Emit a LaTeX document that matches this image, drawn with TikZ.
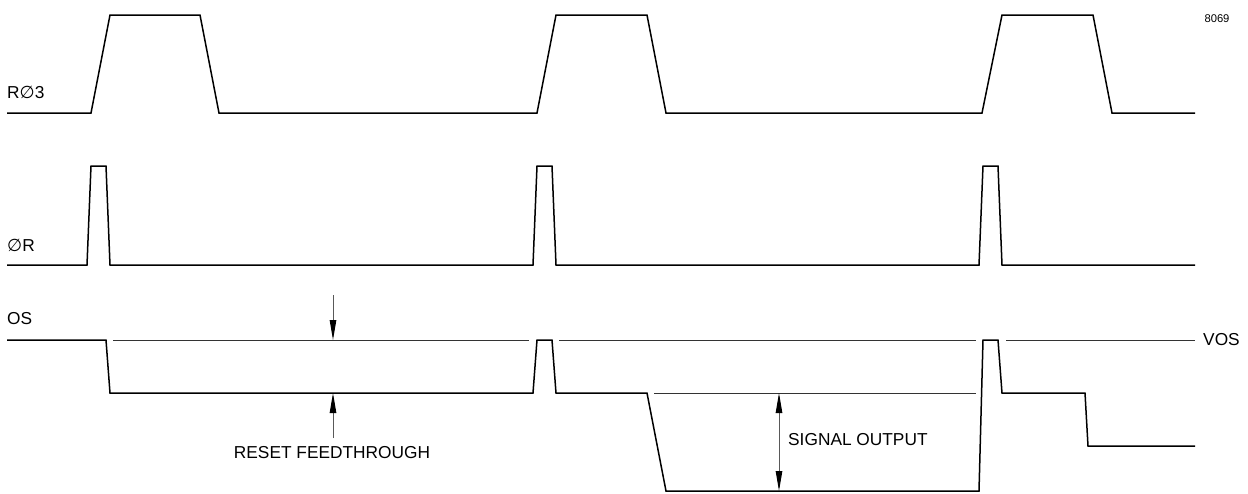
\documentclass[tikz,border=0pt]{standalone}
\usepackage{fontspec}
\setmainfont{Liberation Sans}
\newfontfamily\symf{DejaVu Sans}
\usetikzlibrary{arrows.meta}
\tikzset{
  wave/.style={line width=1.5pt, black, line join=miter},
  refline/.style={line width=1pt, black!80},
  dimarrow/.style={line width=1pt, black!65, -{Triangle[length=20pt,width=6.5pt,black]}},
  dimboth/.style={line width=1pt, black!65, {Triangle[length=20pt,width=6.5pt,black]}-{Triangle[length=20pt,width=6.5pt,black]}},
  lbl/.style={font=\fontsize{17.3}{20}\selectfont, inner sep=0pt},
  tag/.style={font=\fontsize{11.2}{13}\selectfont, inner sep=0pt}
}
\newcommand{\dia}{{\symf\char"2205}}
\begin{document}
\begin{tikzpicture}[x=1pt,y=-1pt]
\useasboundingbox (0,0) rectangle (1248,493);
% R phi 3
\draw[wave] (7,113) -- (91,113) -- (110,15) -- (200,15) -- (219,113) -- (537,113) -- (556,15) -- (647,15) -- (666,113) -- (982,113) -- (1002,15) -- (1093,15) -- (1112,113) -- (1195,113);
% phi R
\draw[wave] (7,265) -- (87,265) -- (91,166) -- (106,166) -- (110,265) -- (533,265) -- (537,166) -- (552,166) -- (556,265) -- (979,265) -- (983,166) -- (998,166) -- (1002,265) -- (1195,265);
% OS
\draw[wave] (7,340) -- (106,340) -- (110,393) -- (533,393) -- (537,340) -- (552,340) -- (556,393) -- (647,393) -- (666,491) -- (979,491) -- (983,340) -- (998,340) -- (1002,393) -- (1085,393) -- (1088,446) -- (1195,446);
% reference lines
\draw[refline] (113,340) -- (529,340);
\draw[refline] (559,340) -- (976,340);
\draw[refline] (1006,340) -- (1195,340);
\draw[refline] (654,393) -- (976,393);
% dimension arrows
\coordinate (rfA) at (333,295);
\coordinate (rfB) at (333,340);
\coordinate (rfC) at (333,438);
\coordinate (rfD) at (333,393);
\coordinate (soA) at (779,393);
\coordinate (soB) at (779,491);
\draw[dimarrow] (rfA) -- (rfB);
\draw[dimarrow] (rfC) -- (rfD);
\draw[dimboth] (soA) -- (soB);
% labels
\node[lbl, anchor=west] (lR3) at (7,92) {R\dia3};
\node[lbl, anchor=west] (lR) at (7,245) {\dia R};
\node[lbl, anchor=west] (lOS) at (7,319) {OS};
\node[lbl, anchor=west] (lVOS) at (1203,340) {VOS};
\node[lbl] (lRF) at (332,453) {RESET FEEDTHROUGH};
\node[lbl, anchor=west] (lSO) at (788,440) {SIGNAL OUTPUT};
\node[tag] (lnum) at (1217,19) {8069};
\end{tikzpicture}
\end{document}
